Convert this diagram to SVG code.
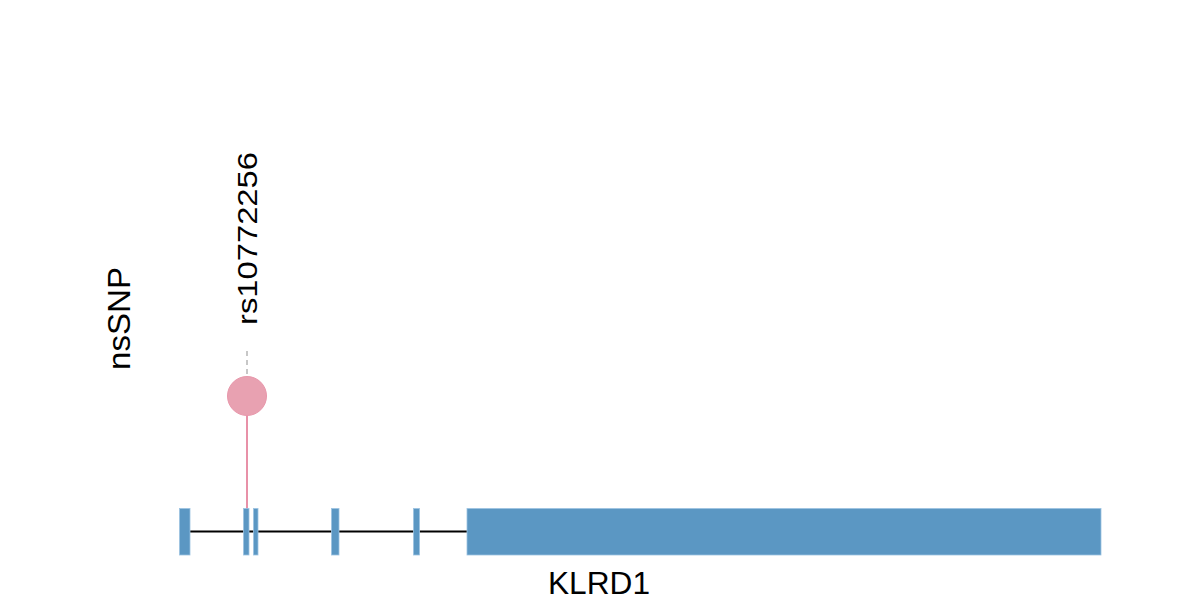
<svg xmlns="http://www.w3.org/2000/svg" width="1200" height="600" viewBox="0 0 1200 600">
<style>
.exon{fill:#5b97c3;stroke:#9cc3e2;stroke-width:0.8}
.lbl{font-family:"Liberation Sans",Arial,sans-serif;fill:#000}
</style>
<rect width="1200" height="600" fill="#fff"/>
<g id="connectors">
<line x1="190" y1="531.5" x2="467" y2="531.5" stroke="#000" stroke-width="2"/>
<line x1="247" y1="351" x2="247" y2="377" stroke="#b5b5b5" stroke-width="1.5" stroke-dasharray="5,4"/>
<line x1="247" y1="412" x2="247" y2="532" stroke="#e891a8" stroke-width="2"/>
</g>
<g id="gene-KLRD1">
<rect class="exon" x="179.5" y="508.5" width="10.5" height="46.5"/>
<rect class="exon" x="243.5" y="508.5" width="5.5" height="46.5"/>
<rect class="exon" x="253.5" y="508.5" width="4.5" height="46.5"/>
<rect class="exon" x="331.5" y="508.5" width="7.5" height="46.5"/>
<rect class="exon" x="413.5" y="508.5" width="6" height="46.5"/>
<rect class="exon" x="467" y="508.5" width="634" height="46.5"/>
<text class="lbl" x="548" y="594" font-size="31" textLength="102" lengthAdjust="spacingAndGlyphs">KLRD1</text>
</g>
<g id="snp-rs10772256">
<circle cx="247" cy="396" r="19.5" fill="#e8a1b1" stroke="#e897ab" stroke-width="1"/>
<text class="lbl" transform="translate(257,325) rotate(-90)" font-size="27" textLength="173" lengthAdjust="spacingAndGlyphs">rs10772256</text>
</g>
<g id="track-label">
<text class="lbl" transform="translate(130,370) rotate(-90)" font-size="31" textLength="103" lengthAdjust="spacingAndGlyphs">nsSNP</text>
</g>
</svg>
